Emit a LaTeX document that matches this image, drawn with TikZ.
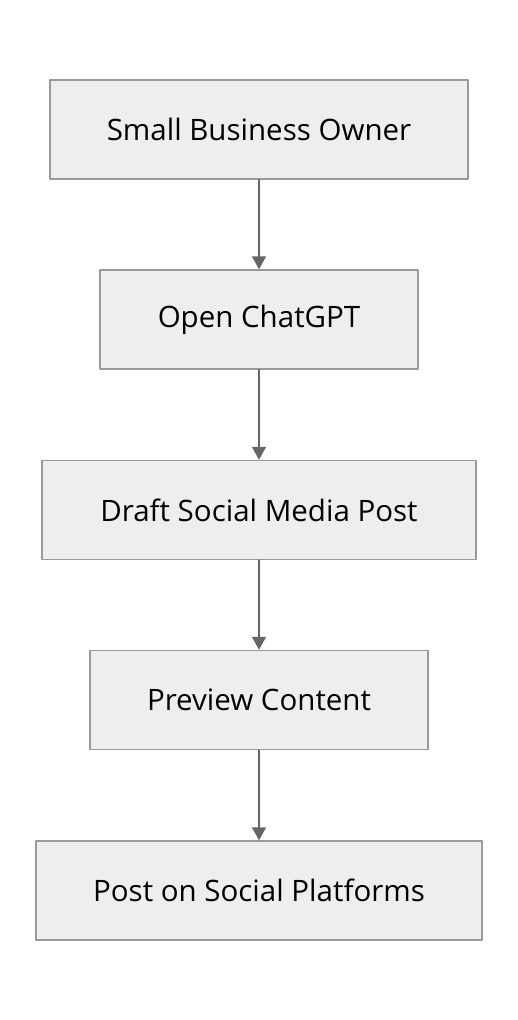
\documentclass[tikz,border=0pt]{standalone}
\usepackage{fontspec}
\setmainfont{Open Sans}
\usetikzlibrary{arrows.meta}
\definecolor{boxfill}{HTML}{EEEEEE}
\definecolor{boxline}{HTML}{999999}
\definecolor{arrowgray}{HTML}{666666}
\tikzset{
  stepbox/.style={draw=boxline, fill=boxfill, line width=1.5pt, minimum height=99pt,
    font=\fontsize{29.5}{34}\selectfont, inner sep=0pt},
  flow/.style={draw=arrowgray, line width=1.8pt, -{Triangle[length=13pt,width=14pt]}}
}
\begin{document}
\begin{tikzpicture}[line cap=round, line join=round, x=1pt, y=-1pt]

                \useasboundingbox (0,0) rectangle (518,1020);

                \node[stepbox, minimum width=418pt] (owner) at (259,129.5) {Small Business Owner};
                \node[stepbox, minimum width=318pt] (open) at (259,319.5) {Open ChatGPT};
                \node[stepbox, minimum width=434pt] (draft) at (259,510) {Draft Social Media Post};
                \node[stepbox, minimum width=338pt] (preview) at (259,700) {Preview Content};
                \node[stepbox, minimum width=446pt] (post) at (259,890.5) {Post on Social Platforms};

                \draw[flow] (owner) -- (open);
                \draw[flow] (open) -- (draft);
                \draw[flow] (draft) -- (preview);
                \draw[flow] (preview) -- (post);

            \end{tikzpicture}
\end{document}
